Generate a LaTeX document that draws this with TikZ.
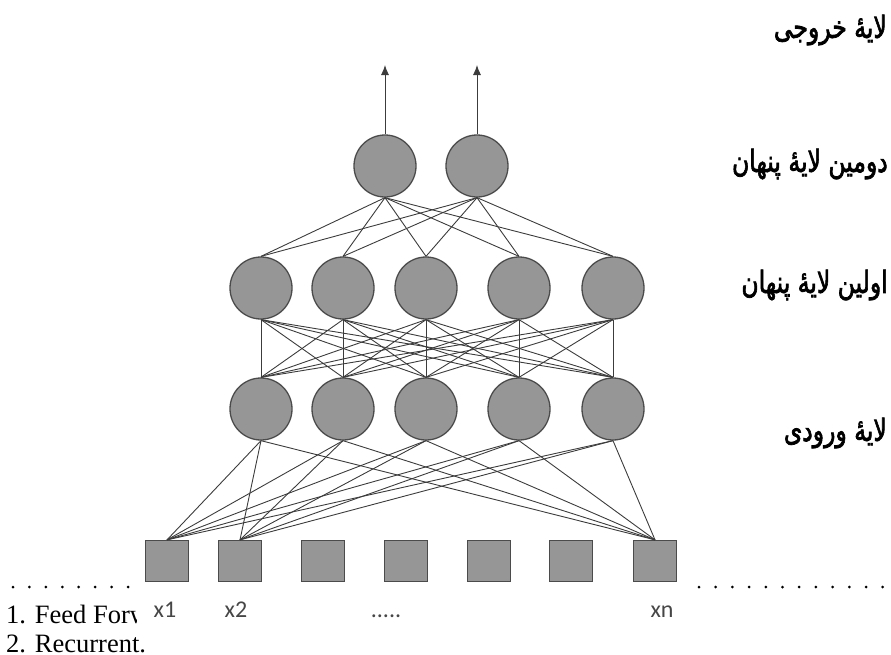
\documentclass[tikz,border=0pt]{standalone}
\usepackage{fontspec}
\setmainfont{Liberation Serif}
\newfontfamily\arabicfont[Script=Arabic,FakeBold=2.5]{DejaVu Sans}
\newfontfamily\labfont{Carlito}
\TeXXeTstate=1
\usetikzlibrary{arrows.meta}
\definecolor{nodefill}{RGB}{150,150,150}
\definecolor{nodeline}{RGB}{75,75,75}
\definecolor{wirecol}{RGB}{60,60,60}
\definecolor{labgray}{RGB}{70,70,70}
\newcommand{\faLabel}[1]{\scalebox{1}[1.3]{\arabicfont\fontsize{23.5}{26}\selectfont\beginR #1\endR}}
\begin{document}
\begin{tikzpicture}[x=1pt,y=-1pt,
 neuron/.style={circle,draw=nodeline,fill=nodefill,line width=1.3pt,minimum size=62pt,inner sep=0},
 unit/.style={rectangle,draw=nodeline,fill=nodefill,line width=1.3pt,minimum width=43pt,minimum height=41pt,inner sep=0},
 wire/.style={draw=wirecol,line width=0.9pt},
 layerlab/.style={anchor=east,inner sep=0},
 xlab/.style={anchor=base,inner sep=0,text=labgray,font=\labfont\fontsize{24}{28}\selectfont},
 note/.style={anchor=base west,inner sep=0,font=\fontsize{26.5}{30}\selectfont}
]
\useasboundingbox (0,0) rectangle (891,654);

% output layer
\node[neuron] (o1) at (385,166) {};
\node[neuron] (o2) at (477,166) {};
\coordinate (t1) at (385,65);
\coordinate (t2) at (477,65);
\draw[wire,-{Latex[length=10pt,width=8pt]}] (o1.north) -- (t1);
\draw[wire,-{Latex[length=10pt,width=8pt]}] (o2.north) -- (t2);

% hidden / input circles
\foreach \j/\x in {1/261,2/343,3/426,4/519,5/613}{
  \node[neuron] (h\j) at (\x,288) {};
  \node[neuron] (i\j) at (\x,409) {};
}
% squares
\foreach \j/\x in {1/167,2/240,3/323,4/406,5/489,6/571,7/655}{
  \node[unit] (s\j) at (\x,561) {};
}

% wires
\foreach \a in {1,2}{\foreach \b in {1,...,5}{\draw[wire] (o\a.south) -- (h\b.north);}}
\foreach \a in {1,...,5}{\foreach \b in {1,...,5}{\draw[wire] (h\a.south) -- (i\b.north);}}
\foreach \a in {1,...,5}{\foreach \b in {1,2,7}{\draw[wire] (i\a.south) -- (s\b.north);}}

% input labels
\node[xlab] (l1) at (165,617) {x1};
\node[xlab] (l2) at (236,617) {x2};
\node[xlab] (l3) at (386,617) {.....};
\node[xlab] (l7) at (662,617) {xn};

% layer labels
\node[layerlab] (a1) at (887,30) {\faLabel{لایهٔ خروجی}};
\node[layerlab] (a2) at (888,164) {\faLabel{دومین لایهٔ پنهان}};
\node[layerlab] (a3) at (888,285) {\faLabel{اولین لایهٔ پنهان}};
\node[layerlab] (a4) at (887,433) {\faLabel{لایهٔ ورودی}};

% dotted rule
\foreach \k in {0,...,7}{\fill (13+16.43*\k,587) circle (1.5);}
\foreach \k in {0,...,11}{\fill (699+16.7*\k,587) circle (1.5);}

% bottom text
\begin{scope}
\clip (0,595) rectangle (136,632);
\node[note] (ff) at (6,623) {1. Feed Forw};
\end{scope}
\node[note] (rec) at (6,652) {2. Recurrent.};
\end{tikzpicture}
\end{document}
